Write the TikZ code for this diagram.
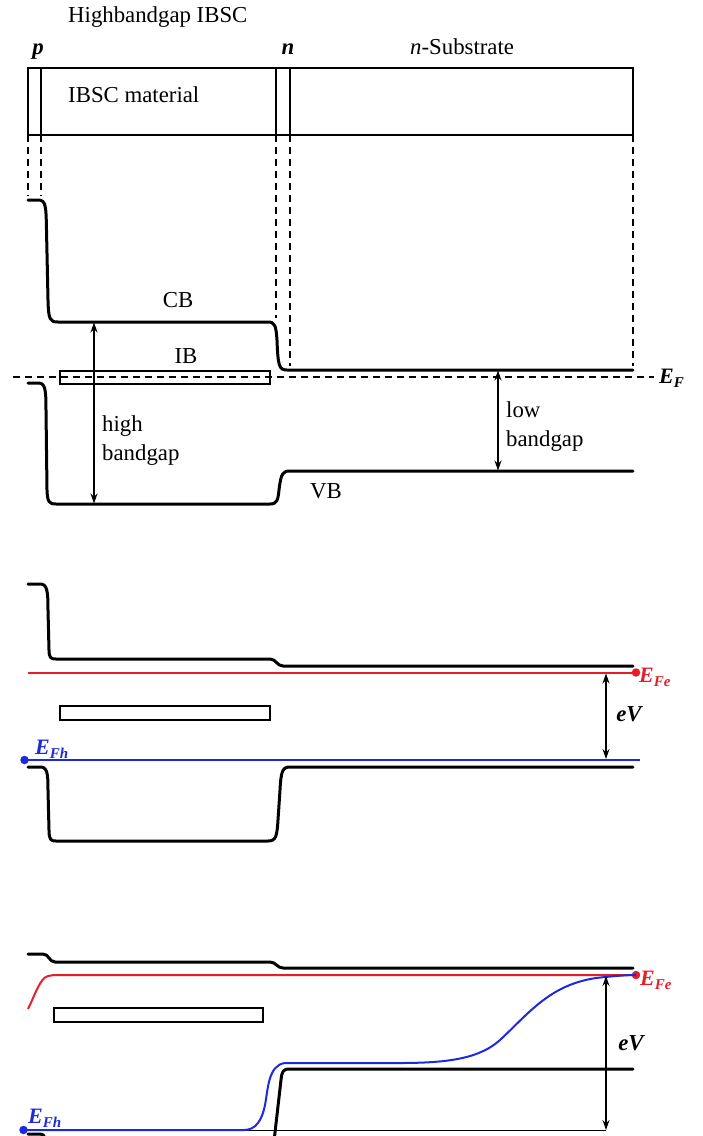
\documentclass[tikz,border=0pt]{standalone}
\usepackage{fontspec}
\setmainfont{Liberation Serif}
\usetikzlibrary{arrows.meta}
\newcommand{\lowsub}[1]{\raisebox{-4.5pt}{\fontsize{15}{15}\selectfont #1}}
\definecolor{efred}{RGB}{230,30,40}
\definecolor{efblue}{RGB}{30,40,220}
\begin{document}
\begin{tikzpicture}[x=1pt,y=-1pt,
  band/.style={line width=3pt, line join=round, line cap=round},
  frame/.style={line width=1.4pt},
  guide/.style={line width=1.2pt, dash pattern=on 7pt off 5pt},
  gaparrow/.style={line width=1.3pt, {Stealth[length=10pt,width=7pt]}-{Stealth[length=10pt,width=7pt]}},
  lbl/.style={font=\fontsize{22.8}{27}\selectfont, inner sep=0pt},
  elbl/.style={font=\fontsize{22}{22}\selectfont\bfseries\itshape, inner sep=0pt, anchor=base west},
  redlvl/.style={efred, line width=2pt},
  bluelvl/.style={efblue, line width=2pt},
  dot/.style={circle, inner sep=0pt, minimum size=8.5pt},
]
\useasboundingbox (0,0) rectangle (702,1136);
\clip (0,0) rectangle (702,1136);

% ---------- header ----------
\node[lbl, anchor=base west] (title) at (68,22) {Highbandgap IBSC};
\node[lbl, anchor=base] (plbl) at (38,54) {\bfseries\itshape p};
\node[lbl, anchor=base] (nlbl) at (288,54) {\bfseries\itshape n};
\node[lbl, anchor=base west] (sublbl) at (410,54) {\textit{n}-Substrate};
\draw[frame] (28,68) rectangle (633,135);
\draw[frame] (41,68) -- (41,135) (276,68) -- (276,135) (290,68) -- (290,135);
\node[lbl, anchor=base west] (mat) at (68,102) {IBSC material};

% dashed guides
\draw[guide] (28,135) -- (28,196);
\draw[guide] (41,135) -- (41,196);
\draw[guide] (276,135) -- (276,318);
\draw[guide] (290,135) -- (290,366);
\draw[guide] (633,135) -- (633,366);

% ---------- diagram 1 (equilibrium) ----------
\draw[band] (28,200) -- (38,200) .. controls (46,200) and (46,206) .. (46.5,230)
  -- (48,300) .. controls (48.5,320) and (50,322) .. (58,322) -- (268,322)
  .. controls (275,322) and (276,326) .. (277,340) .. controls (278,366) and (279,370) .. (287,370) -- (633,370);
\draw[band] (28,383) -- (38,383) .. controls (45,383) and (46,388) .. (46,410)
  -- (47,490) .. controls (47.5,502) and (49,504) .. (56,504) -- (270,504)
  .. controls (277,504) and (278,500) .. (279,490) .. controls (281,473) and (283,471) .. (290,471) -- (633,471);
\draw[guide] (13,377) -- (654,377);
\draw[frame] (60,371) rectangle (270,384);
\node[lbl, anchor=base] (cb) at (178,307) {CB};
\node[lbl, anchor=base] (ib) at (186,363) {IB};
\node[lbl, anchor=base] (vb) at (326,498) {VB};
\node[elbl] (ef) at (659,383) {E\lowsub{F}};
\coordinate (hbtop) at (94,322.5);
\coordinate (hbbot) at (94,503.5);
\draw[gaparrow] (hbtop) -- (hbbot);
\node[lbl, anchor=base west] (hb1) at (102,431) {high};
\node[lbl, anchor=base west] (hb2) at (102,460) {bandgap};
\coordinate (lbtop) at (498,370.5);
\coordinate (lbbot) at (498,470.5);
\draw[gaparrow] (lbtop) -- (lbbot);
\node[lbl, anchor=base west] (lb1) at (506,417) {low};
\node[lbl, anchor=base west] (lb2) at (506,446) {bandgap};

% ---------- diagram 2 ----------
\draw[band] (28,584) -- (40,584) .. controls (47,584) and (48,590) .. (48,610)
  -- (49,650) .. controls (49,658) and (51,659) .. (56,659) -- (270,659)
  .. controls (276,659) and (277,666) .. (283,666) -- (633,666);
\draw[band] (28,767) -- (40,767) .. controls (47,767) and (48,772) .. (48,790)
  -- (49,830) .. controls (49,840) and (51,841) .. (56,841) -- (268,841)
  .. controls (276,841) and (277,836) .. (278,820) -- (280,790)
  .. controls (281,770) and (283,767) .. (290,767) -- (633,767);
\draw[frame] (60,706) rectangle (270,720);
\node[dot, fill=efred] (fe2) at (636,672.5) {};
\draw[redlvl] (28,672.5) -- (fe2.center);
\node[dot, fill=efblue] (fh2) at (24.5,760) {};
\draw[bluelvl] (fh2.center) -- (640,760);
\node[elbl, text=efred] (efe2) at (639,682) {E\lowsub{Fe}};
\node[elbl, text=efblue] (efh2) at (35,754) {E\lowsub{Fh}};
\coordinate (ev2top) at (606,673.5);
\coordinate (ev2bot) at (606,759);
\draw[gaparrow] (ev2top) -- (ev2bot);
\node[lbl, anchor=base] (ev2) at (629,721) {\bfseries\itshape eV};

% ---------- diagram 3 ----------
\draw[band] (28,954) -- (43,954) .. controls (49,954) and (49,962) .. (55,962) -- (270,962)
  .. controls (276,962) and (277,968) .. (283,968) -- (633,968);
\draw[band] (28,1134) -- (40,1134) .. controls (45,1134) and (46,1138) .. (46,1150);
\draw[band] (273,1150) -- (281,1080) .. controls (282,1071) and (283,1069) .. (290,1069) -- (633,1069);
\draw[frame] (54,1008) rectangle (263,1022);
\node[dot, fill=efred] (fe3) at (636,975) {};
\draw[redlvl] (28,1009) .. controls (35,995) and (40,978) .. (48,976) .. controls (52,975) and (54,975) .. (60,975) -- (fe3.center);
\coordinate (ev3top) at (606,976);
\coordinate (ev3bot) at (606,1130);
\draw[line width=1pt] (24,1130) -- (ev3bot);
\node[dot, fill=efblue] (fh3) at (23.5,1130) {};
\draw[bluelvl] (fh3.center) -- (244,1130) .. controls (256,1130) and (262,1120) .. (265,1105)
  .. controls (268,1090) and (268,1065) .. (285,1063) -- (400,1063)
  .. controls (450,1063) and (480,1058) .. (500,1040)
  .. controls (530,1012) and (550,985) .. (596,978)
  .. controls (618,975.5) and (630,975) .. (fe3.center);
\draw[gaparrow] (ev3top) -- (ev3bot);
\node[lbl, anchor=base] (ev3) at (631,1050) {\bfseries\itshape eV};
\node[elbl, text=efred] (efe3) at (640,985) {E\lowsub{Fe}};
\node[elbl, text=efblue] (efh3) at (28,1123) {E\lowsub{Fh}};
\end{tikzpicture}
\end{document}
